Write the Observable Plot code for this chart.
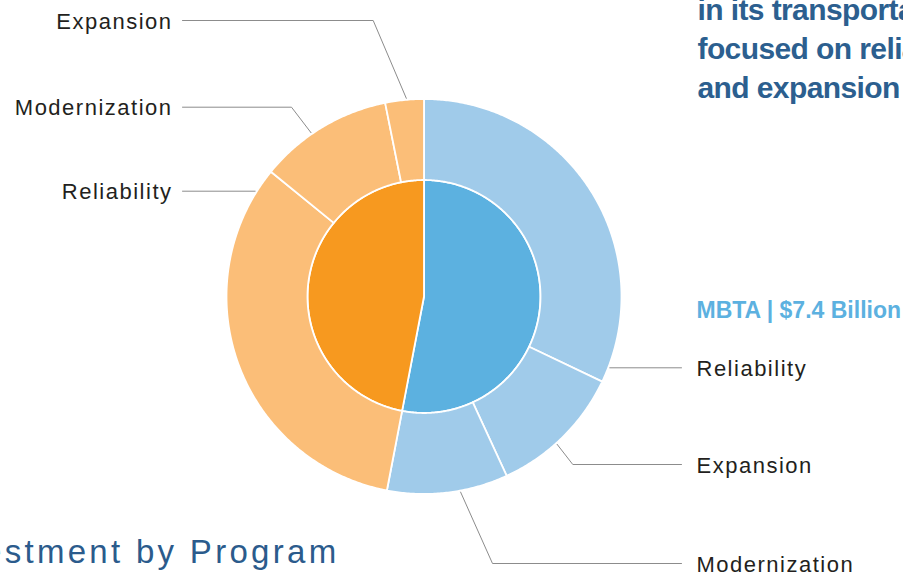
<!DOCTYPE html>
<html>
<head>
<meta charset="utf-8">
<script src="https://cdn.jsdelivr.net/npm/d3@7"></script>
<script src="https://cdn.jsdelivr.net/npm/@observablehq/plot@0.6"></script>
<style>
  html, body { margin: 0; padding: 0; background: #ffffff; overflow: hidden; }
  g[font-size="22"] { letter-spacing: 1.5px; }
  g[font-size="30"] { letter-spacing: -0.6px; }
  g[font-size="33"] { letter-spacing: 3.3px; }
</style>
</head>
<body>
<div id="chart"></div>
<script>
// ---------------- DATA ($ billions) ----------------
const agencies = ["MBTA", "Highway"];
const mbtaPrograms = ["Reliability", "Expansion", "Modernization"];
const mbtaValues = [4.48, 1.54, 1.38];
const otherPrograms = ["Reliability", "Modernization", "Expansion"];
const otherValues = [4.59, 1.53, 0.44];
const headlineLines = ["in its transportation", "focused on reliability", "and expansion"];
const mbtaTitle = "MBTA | $7.4 Billion";
const pageTitle = "Investment by Program";

// ---------------- LAYOUT ----------------
const W = 903, H = 574;
const cx = 423.5, cy = 296;
const rIn = 116.5, rOut = 197.5;
const innerColors = ["#5cb1e0", "#f7991f"];
const outerColors = ["#a0cbea", "#fbbe78"];

const mbtaTotal = d3.sum(mbtaValues), otherTotal = d3.sum(otherValues);
const total = mbtaTotal + otherTotal;
const toAngle = v => v / total * 360;

function pt(angleDeg, r) {
  const a = angleDeg * Math.PI / 180;
  return {x: cx + r * Math.sin(a), y: cy - r * Math.cos(a)};
}
function slicePolygon(a0, a1, r0, r1) {
  const pts = [];
  const n = Math.max(2, Math.ceil((a1 - a0) / 0.5));
  for (let i = 0; i <= n; i++) pts.push(pt(a0 + (a1 - a0) * i / n, r1));
  if (r0 === 0) pts.push({x: cx, y: cy});
  else for (let i = n; i >= 0; i--) pts.push(pt(a0 + (a1 - a0) * i / n, r0));
  return pts;
}

// inner pie slices
const innerValues = [mbtaTotal, otherTotal];
const slices = [];
let acc = 0;
innerValues.forEach((v, i) => {
  const a0 = toAngle(acc), a1 = toAngle(acc + v);
  slices.push({pts: slicePolygon(a0, a1, 0, rIn), color: innerColors[i]});
  acc += v;
});
// outer ring slices
acc = 0;
[mbtaValues, otherValues].forEach((vals, g) => {
  vals.forEach(v => {
    const a0 = toAngle(acc), a1 = toAngle(acc + v);
    slices.push({pts: slicePolygon(a0, a1, rIn, rOut), color: outerColors[g]});
    acc += v;
  });
});

// leader-line layout (label y, elbow x, anchor angle)
const leftLayout = [
  {label: otherPrograms[2], y: 20, elbowX: 372.7, angle: 354.9},
  {label: otherPrograms[1], y: 106.7, elbowX: 291, angle: 325.4},
  {label: otherPrograms[0], y: 190.7, elbowX: null, angle: null}
];
const rightLayout = [
  {label: mbtaPrograms[0], y: 367.3, elbowX: null, angle: null},
  {label: mbtaPrograms[1], y: 464, elbowX: 572.3, angle: 138.0},
  {label: mbtaPrograms[2], y: 563, elbowX: 492, angle: 169.4}
];
const rAnchor = rOut + 1.5;
const leftLineX = 182, rightLineX = 681;
const leftTextX = 172, rightTextX = 696;

const leaders = [];
function addLeader(d, side, id) {
  let anchor;
  if (d.angle == null) {
    const dx = Math.sqrt(rAnchor * rAnchor - (d.y - cy) ** 2);
    anchor = {x: cx + side * dx, y: d.y};
  } else anchor = pt(d.angle, rAnchor);
  const endX = side < 0 ? leftLineX : rightLineX;
  leaders.push({id, x: anchor.x, y: anchor.y});
  if (d.elbowX != null) leaders.push({id, x: d.elbowX, y: d.y});
  leaders.push({id, x: endX, y: d.y});
}
leftLayout.forEach((d, i) => addLeader(d, -1, "L" + i));
rightLayout.forEach((d, i) => addLeader(d, 1, "R" + i));

const labelFont = "'Liberation Sans', Arial, sans-serif";

const svg = Plot.plot({
  width: W, height: H, margin: 0,
  x: {domain: [0, W], axis: null},
  y: {domain: [H, 0], axis: null},
  style: {background: "white", overflow: "hidden"},
  marks: [
    ...slices.map(s => Plot.line(s.pts, {x: "x", y: "y", fill: s.color, stroke: "white", strokeWidth: 1.8, curve: "linear-closed", strokeLinejoin: "round"})),
    Plot.line(leaders, {x: "x", y: "y", z: "id", stroke: "#8c8c8c", strokeWidth: 1}),
    Plot.text(leftLayout, {x: leftTextX, y: d => d.y + 8, text: "label", textAnchor: "end", lineAnchor: "bottom", fontSize: 22, fontFamily: labelFont, fill: "#231f20"}),
    Plot.text(rightLayout, {x: rightTextX, y: d => d.y + 8, text: "label", textAnchor: "start", lineAnchor: "bottom", fontSize: 22, fontFamily: labelFont, fill: "#231f20"}),
    Plot.text(headlineLines, {x: 697, y: (d, i) => 19.5 + i * 39.2, text: d => d, textAnchor: "start", lineAnchor: "bottom", fontSize: 30, fontWeight: "bold", fontFamily: labelFont, fill: "#2c5f8f"}),
    Plot.text([mbtaTitle], {x: 696, y: 317, text: d => d, textAnchor: "start", lineAnchor: "bottom", fontSize: 23, fontWeight: "bold", fontFamily: labelFont, fill: "#5cb1e0"}),
    Plot.text([pageTitle], {x: 339, y: 562, text: d => d, textAnchor: "end", lineAnchor: "bottom", fontSize: 33, fontFamily: labelFont, fill: "#2b5b8c"})
  ]
});
document.getElementById("chart").appendChild(svg);
</script>
</body>
</html>
